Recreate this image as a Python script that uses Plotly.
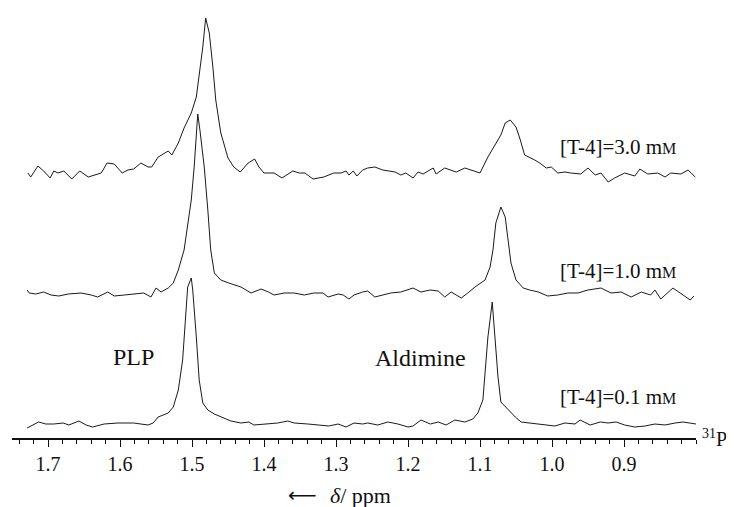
import plotly.graph_objects as go

# ---- data (chemical shift in ppm, intensity in arbitrary units above each baseline) ----
ppm_30 = [1.728, 1.724, 1.714, 1.706, 1.697, 1.692, 1.686, 1.678, 1.667, 1.656, 1.644, 1.626, 1.618, 1.608,
          1.597, 1.589, 1.581, 1.571, 1.561, 1.556, 1.547, 1.533, 1.528, 1.519, 1.511, 1.501, 1.494, 1.490,
          1.485, 1.481, 1.476, 1.471, 1.467, 1.460, 1.450, 1.442, 1.433, 1.422, 1.413, 1.407, 1.400, 1.386,
          1.375, 1.360, 1.351, 1.343, 1.332, 1.317, 1.303, 1.293, 1.286, 1.282, 1.276, 1.271, 1.263, 1.256,
          1.246, 1.235, 1.218, 1.210, 1.203, 1.193, 1.186, 1.179, 1.165, 1.161, 1.149, 1.133, 1.121, 1.100,
          1.089, 1.071, 1.065, 1.058, 1.050, 1.044, 1.038, 1.024, 1.017, 1.008, 1.001, 0.992, 0.982, 0.974,
          0.960, 0.950, 0.940, 0.932, 0.922, 0.913, 0.899, 0.885, 0.878, 0.867, 0.853, 0.843, 0.835, 0.821,
          0.811, 0.801]
int_30 = [-1, -5, 6, 1, -6, 1, -1, 1, -7, 1, -5, -1, 9, 8,
          -1, 2, 3, 9, 5, 5, 15, 21, 17, 29, 44, 59, 75, 95,
          125, 154, 139, 105, 72, 39, 14, 5, 0, 9, 13, 5, -1, -1,
          -6, 1, -1, -1, -7, -5, -1, -1, 1, -3, 1, -4, 2, 4,
          5, 2, 0, -3, -1, -6, 0, -2, 4, -2, 4, 0, 4, -1,
          15, 37, 49, 52, 45, 32, 17, 12, 9, 4, 5, -1, 0, -1,
          -2, 4, -3, -1, -10, -6, -1, -4, 3, -2, -1, -5, -1, -2,
          2, -5]

ppm_10 = [1.729, 1.726, 1.717, 1.706, 1.696, 1.685, 1.672, 1.654, 1.640, 1.631, 1.617, 1.608, 1.594, 1.581,
          1.567, 1.557, 1.550, 1.543, 1.533, 1.526, 1.519, 1.511, 1.506, 1.501, 1.497, 1.494, 1.492, 1.489,
          1.483, 1.478, 1.474, 1.469, 1.460, 1.449, 1.432, 1.418, 1.404, 1.394, 1.386, 1.372, 1.358, 1.344,
          1.331, 1.318, 1.311, 1.297, 1.290, 1.282, 1.275, 1.263, 1.256, 1.246, 1.235, 1.224, 1.210, 1.193,
          1.182, 1.169, 1.158, 1.149, 1.140, 1.126, 1.117, 1.107, 1.093, 1.086, 1.082, 1.078, 1.071, 1.065,
          1.061, 1.057, 1.050, 1.040, 1.031, 1.019, 1.006, 0.992, 0.978, 0.964, 0.950, 0.932, 0.918, 0.904,
          0.890, 0.876, 0.863, 0.857, 0.849, 0.839, 0.832, 0.818, 0.808, 0.803]
int_10 = [4, 1, 0, 2, -1, -2, 0, 1, -1, -3, 2, -2, -1, 0,
          1, -3, 6, 2, 6, 11, 24, 44, 67, 94, 127, 161, 180, 164,
          127, 84, 44, 21, 14, 11, 7, 1, 5, 2, -1, 1, 1, -1,
          1, 1, -3, 0, -1, -5, -1, 2, 3, -3, -1, 1, 2, 6,
          2, 4, 3, -3, 2, -4, 1, 7, 14, 27, 44, 71, 87, 77,
          54, 31, 14, 6, 4, 2, -2, -1, 1, 1, 4, 6, 1, 2,
          -3, 2, -1, 4, -5, 2, 6, -1, -6, -2]

ppm_01 = [1.729, 1.721, 1.713, 1.703, 1.692, 1.679, 1.671, 1.657, 1.647, 1.638, 1.622, 1.603, 1.581, 1.561,
          1.554, 1.547, 1.540, 1.533, 1.526, 1.519, 1.513, 1.510, 1.506, 1.501, 1.499, 1.494, 1.490, 1.485,
          1.478, 1.469, 1.460, 1.446, 1.432, 1.421, 1.414, 1.394, 1.381, 1.367, 1.358, 1.339, 1.321, 1.310,
          1.297, 1.286, 1.275, 1.263, 1.256, 1.242, 1.228, 1.214, 1.200, 1.193, 1.182, 1.169, 1.158, 1.147,
          1.135, 1.121, 1.110, 1.103, 1.096, 1.093, 1.089, 1.083, 1.079, 1.075, 1.071, 1.061, 1.051, 1.043,
          1.029, 1.015, 0.996, 0.982, 0.968, 0.961, 0.947, 0.933, 0.922, 0.911, 0.899, 0.885, 0.871, 0.857,
          0.843, 0.829, 0.818, 0.800]
int_01 = [-5, -2, 1, -1, -1, 0, -2, 2, -2, -4, -1, 0, 0, -2,
          0, 6, 8, 10, 16, 33, 63, 93, 136, 145, 133, 86, 43, 20,
          13, 9, 6, 2, 0, 1, -2, -1, 0, 2, 0, -1, -2, -3,
          -1, -4, 0, -1, 0, -2, 1, -1, -4, -3, 3, -1, 1, -2,
          3, 1, 4, 10, 23, 53, 86, 121, 86, 46, 21, 13, 6, 1,
          0, -1, -3, 0, -1, 3, -2, 1, 0, 1, -2, -4, -3, -1,
          -2, 0, 1, -1]

offsets = [251, 129, 0]
series_labels = ["[T-4]=3.0 m<span style='font-size:16px'>M</span>",
                 "[T-4]=1.0 m<span style='font-size:16px'>M</span>",
                 "[T-4]=0.1 m<span style='font-size:16px'>M</span>"]
tick_vals = [1.7, 1.6, 1.5, 1.4, 1.3, 1.2, 1.1, 1.0, 0.9]
tick_text = ["1.7", "1.6", "1.5", "1.4", "1.3", "1.2", "1.1", "1.0", "0.9"]

FONT = "Liberation Serif, Times New Roman, serif"

fig = go.Figure()
for xs, ys, off in zip([ppm_30, ppm_10, ppm_01], [int_30, int_10, int_01], offsets):
    fig.add_trace(go.Scatter(x=xs, y=[v + off for v in ys], mode="lines",
                             line=dict(color="#1a1a1a", width=1), showlegend=False,
                             hoverinfo="skip"))

# concentration labels
label_y = [276, 152, 26]
for txt, ly in zip(series_labels, label_y):
    fig.add_annotation(x=0.991, y=ly, xref="x", yref="y", text=txt, showarrow=False,
                       xanchor="left", yanchor="middle", font=dict(family=FONT, size=21, color="#111"))

fig.add_annotation(x=1.581, y=66, xref="x", yref="y", text="PLP", showarrow=False,
                   xanchor="center", yanchor="middle", font=dict(family=FONT, size=24, color="#111"))
fig.add_annotation(x=1.183, y=65, xref="x", yref="y", text="Aldimine", showarrow=False,
                   xanchor="center", yanchor="middle", font=dict(family=FONT, size=24, color="#111"))

# nucleus label at axis end
fig.add_annotation(x=1.006, y=-15, xref="paper", yref="y", text="<sup>31</sup>P", showarrow=False,
                   xanchor="left", yanchor="middle", font=dict(family=FONT, size=20, color="#111"))

# axis title with arrow
fig.add_annotation(x=(286 - 12) / 684, y=-0.133, xref="paper", yref="paper", text="⟵",
                   showarrow=False, xanchor="left", yanchor="middle",
                   font=dict(family="DejaVu Sans", size=20, color="#111"))
fig.add_annotation(x=(328 - 12) / 684, y=-0.133, xref="paper", yref="paper",
                   text="<i>δ</i>/ ppm", showarrow=False, xanchor="left", yanchor="middle",
                   font=dict(family=FONT, size=22, color="#111"))

fig.update_xaxes(range=[1.75, 0.8], tickmode="array", tickvals=tick_vals, ticktext=tick_text,
                 showline=True, linecolor="#111", linewidth=1.5, ticks="outside", ticklen=7,
                 tickwidth=1.2, tickcolor="#111", showgrid=False, zeroline=False,
                 tickfont=dict(family=FONT, size=20, color="#111"),
                 minor=dict(tickmode="linear", tick0=0.8, dtick=0.02, ticks="outside",
                            ticklen=4, tickwidth=1, tickcolor="#111", showgrid=False))
fig.update_yaxes(range=[-15, 415], visible=False, showgrid=False, zeroline=False)

# page has an 8px body margin, so the figure is 8px smaller each way
fig.update_layout(width=726, height=499, margin=dict(l=4, r=38, t=0, b=69),
                  plot_bgcolor="white", paper_bgcolor="white", showlegend=False)

fig.write_html("out.html")
